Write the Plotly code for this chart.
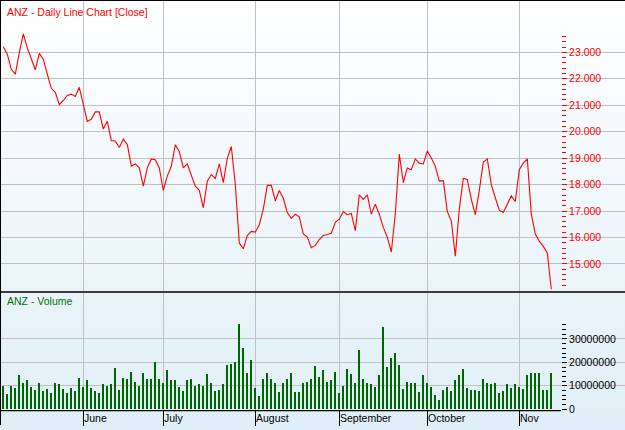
import math
import base64
import plotly.graph_objects as go

# ---------------- data ----------------
close = [
    23.21, 22.93, 22.36, 22.18, 22.99, 23.70, 23.17, 22.74, 22.34, 22.96,
    22.74, 22.18, 21.64, 21.49, 21.02, 21.18, 21.37, 21.42, 21.33, 21.68,
    21.00, 20.39, 20.47, 20.75, 20.75, 20.10, 20.39, 19.66, 19.65, 19.40,
    19.72, 19.52, 18.70, 18.78, 18.63, 17.94, 18.63, 18.97, 18.94, 18.63,
    17.78, 18.32, 18.69, 19.50, 19.25, 18.63, 18.78, 18.38, 17.94, 17.78,
    17.13, 18.13, 18.38, 18.23, 18.78, 18.07, 19.00, 19.44, 18.00, 15.79,
    15.57, 16.07, 16.23, 16.20, 16.48, 17.07, 17.97, 17.97, 17.38, 17.78,
    17.48, 16.94, 16.72, 16.88, 16.78, 16.13, 16.01, 15.61, 15.70, 15.92,
    16.07, 16.11, 16.16, 16.57, 16.69, 16.98, 16.86, 16.91, 16.26, 17.61,
    17.44, 17.61, 16.88, 17.26, 16.88, 16.38, 16.01, 15.45, 16.88, 19.15,
    18.07, 18.63, 18.56, 18.97, 18.81, 18.78, 19.27, 19.00, 18.69, 18.13,
    18.15, 16.98, 16.63, 15.29, 17.07, 18.23, 18.19, 17.44, 16.86, 17.78,
    18.85, 18.97, 18.00, 17.50, 17.03, 16.94, 17.26, 17.57, 17.36, 18.56,
    18.81, 18.97, 16.88, 16.13, 15.86, 15.66, 15.41, 14.04,
]

volume_millions = [
    10.1, 6.3, 10.1, 8.9, 14.8, 11.4, 12.3, 9.3, 8.0, 11.0,
    7.6, 8.5, 6.8, 11.0, 10.6, 8.5, 6.8, 8.9, 7.6, 13.5,
    9.3, 12.3, 8.9, 7.6, 6.8, 10.6, 9.7, 10.6, 17.7, 8.0,
    13.5, 12.7, 16.1, 11.8, 10.1, 15.6,
    12.7, 13.1, 20.3, 12.7, 11.0, 16.9, 12.3, 12.3, 9.3, 7.6,
    12.3, 12.7, 9.7, 10.6, 9.7, 15.2, 11.4, 7.6, 8.0, 10.6,
    19.0, 19.4, 20.3, 36.3, 26.2, 15.6, 21.1, 8.9, 5.5, 13.1,
    15.6, 13.1, 11.4, 7.2, 11.4,
    13.1, 15.6, 7.2, 7.2, 11.0, 11.8, 13.1, 18.6, 13.9, 16.9,
    11.8, 12.3, 16.1, 6.8, 10.1, 17.3, 15.2, 11.0, 25.4, 13.1,
    11.0, 10.6, 9.3, 14.4, 35.1, 18.2, 22.0, 24.1, 19.0, 8.5,
    11.8, 11.0, 11.0, 7.2, 14.4,
    11.0, 9.3, 5.9, 3.8, 8.0, 9.3, 7.6, 12.3, 14.8, 17.3,
    8.9, 8.0, 8.0, 7.6, 12.7, 11.0, 10.6, 11.0, 6.8, 7.6,
    10.6, 8.9, 10.6, 9.3, 8.5, 14.8, 15.6, 15.6, 15.6, 8.0,
    8.0, 15.6,
]

month_labels = ["June", "July", "August", "September", "October", "Nov"]
month_start_index = [20, 40, 63, 84, 106, 129]   # trading-day index of first day of month

price_title = "ANZ - Daily Line Chart [Close]"
volume_title = "ANZ - Volume"

# ---------------- derived ----------------
volume = [v * 1e6 for v in volume_millions]
day = list(range(len(close)))

W, H = 625, 430
FONT = "Liberation Sans, Arial, sans-serif"
FS = 10.5


def py(Y):
    return 1 - Y / H


pmin, pmax = min(close), max(close)
price_major = list(range(math.ceil(pmin), math.floor(pmax) + 1))
price_minor = [k / 5 for k in range(math.ceil(pmin * 5), math.floor(pmax * 5) + 1)]

vmax = max(volume)
vol_major = [k * 10e6 for k in range(0, int(vmax // 10e6) + 1)]
vol_minor = [k * 2e6 for k in range(0, int(vmax // 2e6) + 1)]

axis_pos = 561 / W

fig = go.Figure()
fig.add_trace(go.Scatter(
    x=day, y=close, mode="lines",
    line=dict(color="#FF0000", width=1.1),
    xaxis="x", yaxis="y", hoverinfo="skip", showlegend=False,
))
fig.add_trace(go.Bar(
    x=day, y=volume, width=0.45,
    marker=dict(color="#006400", line=dict(width=0)),
    xaxis="x2", yaxis="y2", hoverinfo="skip", showlegend=False,
))

svg = (
    "<svg xmlns='http://www.w3.org/2000/svg' width='10' height='100' preserveAspectRatio='none'>"
    "<defs><linearGradient id='g' x1='0' y1='0' x2='0' y2='1'>"
    "<stop offset='0' stop-color='#FFFFFF'/><stop offset='1' stop-color='#E0EFF7'/>"
    "</linearGradient></defs><rect width='10' height='100' fill='url(#g)'/></svg>"
)
bg_src = "data:image/svg+xml;base64," + base64.b64encode(svg.encode()).decode()

xrange = [-0.825, 155.425]
grid = "#C0C0C0"

fig.update_layout(
    width=W, height=H,
    margin=dict(l=0, r=0, t=0, b=0),
    paper_bgcolor="#E0EFF7",
    plot_bgcolor="rgba(0,0,0,0)",
    font=dict(family=FONT, size=FS, color="#000000"),
    bargap=0,
    images=[dict(source=bg_src, xref="paper", yref="paper", x=0, y=1,
                 sizex=1, sizey=1, xanchor="left", yanchor="top",
                 sizing="stretch", layer="below")],
    xaxis=dict(
        domain=[0, 1], range=xrange, anchor="y",
        tickmode="array", tickvals=month_start_index, showticklabels=False,
        ticks="", showgrid=True, gridcolor=grid, gridwidth=1,
        zeroline=False, showline=False, fixedrange=True,
    ),
    yaxis=dict(
        domain=[py(295), 1], range=[13.953, 24.98],
        anchor="free", position=axis_pos, side="right",
        tickmode="array", tickvals=price_major, tickformat=".3f",
        ticks="outside", ticklen=5, tickwidth=1, tickcolor="#FF0000",
        tickfont=dict(color="#FF0000", size=FS, family=FONT),
        showgrid=True, gridcolor=grid, gridwidth=1,
        zeroline=False, showline=False, fixedrange=True,
        minor=dict(tickmode="array", tickvals=price_minor, ticks="outside",
                   ticklen=4, tickwidth=1, tickcolor="#FF0000", showgrid=False),
    ),
    xaxis2=dict(
        domain=[0, 1], range=xrange, anchor="y2", matches="x",
        tickmode="array", tickvals=month_start_index, showticklabels=False,
        ticks="outside", ticklen=15, tickwidth=1, tickcolor="#000000",
        showgrid=True, gridcolor=grid, gridwidth=1,
        zeroline=False, showline=False,
    ),
    yaxis2=dict(
        domain=[py(415), py(296)], range=[-0.42e6, 49.85e6],
        anchor="free", position=axis_pos, side="right",
        tickmode="array", tickvals=vol_major, tickformat="d",
        ticks="outside", ticklen=5, tickwidth=1, tickcolor="#000000",
        tickfont=dict(color="#000000", size=FS, family=FONT),
        showgrid=True, gridcolor=grid, gridwidth=1,
        zeroline=False, showline=False, fixedrange=True,
        minor=dict(tickmode="array", tickvals=vol_minor, ticks="outside",
                   ticklen=4, tickwidth=1, tickcolor="#000000", showgrid=False),
    ),
    shapes=[
        dict(type="line", xref="paper", yref="paper", x0=0, x1=1, y0=1, y1=1,
             line=dict(color="#000000", width=2)),
        dict(type="line", xref="paper", yref="paper", x0=0, x1=0, y0=0, y1=1,
             line=dict(color="#000000", width=2)),
        dict(type="line", xref="paper", yref="paper", x0=0, x1=1,
             y0=py(295.5), y1=py(295.5), line=dict(color="#000000", width=1.6)),
        dict(type="line", xref="paper", yref="paper", x0=0, x1=axis_pos,
             y0=py(415.5), y1=py(415.5), line=dict(color="#000000", width=1.2)),
    ],
)

annotations = [
    dict(text=price_title, xref="paper", yref="paper", x=5 / W, y=py(12),
         xanchor="left", yanchor="middle", showarrow=False,
         font=dict(color="#FF0000", size=FS, family=FONT)),
    dict(text=volume_title, xref="paper", yref="paper", x=5 / W, y=py(305),
         xanchor="left", yanchor="middle", showarrow=False,
         font=dict(color="#007000", size=FS, family=FONT)),
]
for lab, idx in zip(month_labels, month_start_index):
    annotations.append(dict(
        text=lab, xref="x2", yref="paper", x=idx, y=py(422.5),
        xanchor="left", yanchor="middle", showarrow=False, xshift=-1,
        font=dict(color="#000000", size=FS, family=FONT)))
fig.update_layout(annotations=annotations)

fig.write_html(
    "out.html",
    config={"displayModeBar": False, "staticPlot": True},
    post_script="document.body.style.margin='0px';document.body.style.padding='0px';"
                "document.body.style.overflow='hidden';",
)
